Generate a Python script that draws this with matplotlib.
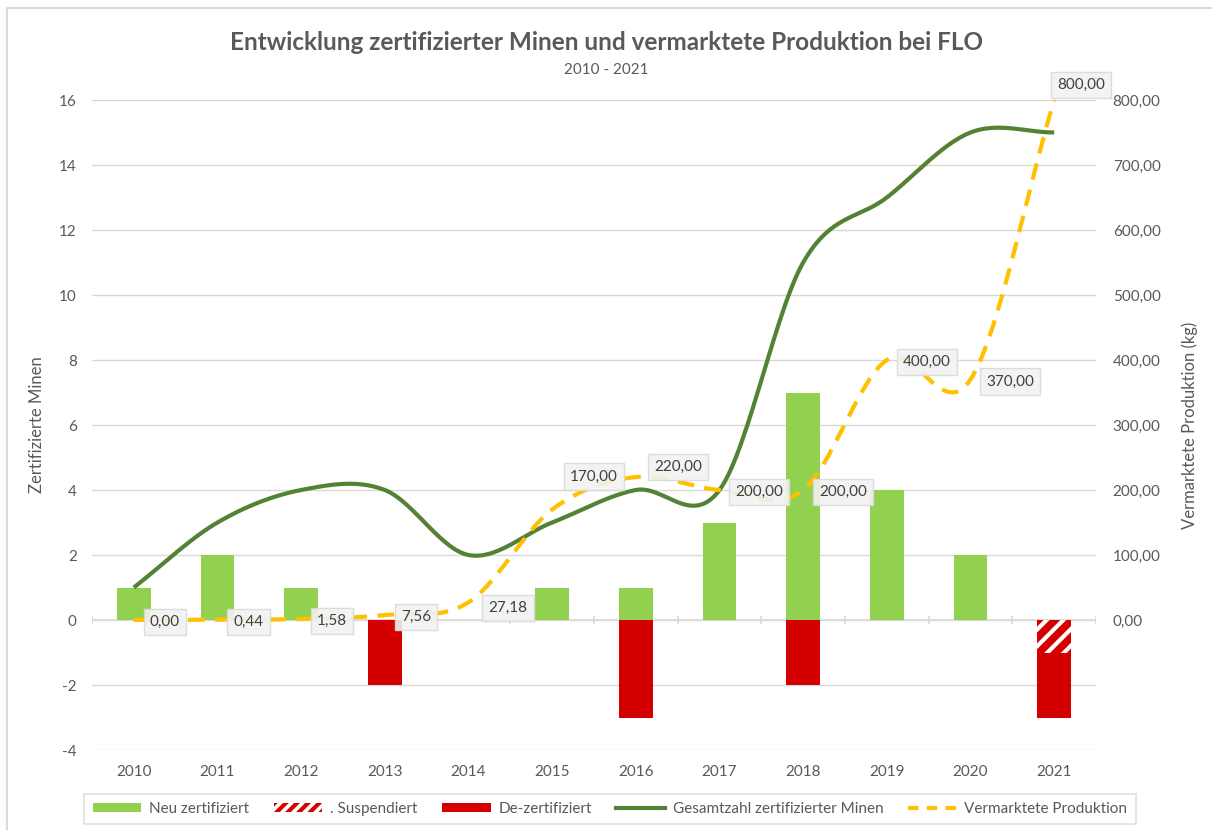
import numpy as np
import matplotlib
matplotlib.use('Agg')
from matplotlib import pyplot as plt
from matplotlib.patches import Patch, Rectangle
from matplotlib.lines import Line2D

plt.rcParams['font.family'] = ['Lato', 'DejaVu Sans']
plt.rcParams['hatch.linewidth'] = 3.0
plt.rcParams['axes.unicode_minus'] = False

years = ['2010', '2011', '2012', '2013', '2014', '2015',
         '2016', '2017', '2018', '2019', '2020', '2021']
neu = [1, 2, 1, 0, 0, 1, 1, 3, 7, 4, 2, 0]
suspendiert = [0, 0, 0, 0, 0, 0, 0, 0, 0, 0, 0, -1]
dezert = [0, 0, 0, -2, 0, 0, -3, 0, -2, 0, 0, -2]
gesamt = [1, 3, 4, 4, 2, 3, 4, 4, 11, 13, 15, 15]
produktion = [0.00, 0.44, 1.58, 7.56, 27.18, 170.00,
              220.00, 200.00, 200.00, 400.00, 370.00, 800.00]

GREEN = '#92d050'
RED = '#d40000'
DKGREEN = '#548235'
YELLOW = '#ffc000'
GRID = '#d9d9d9'
TXT = '#595959'


def smooth(y, n=30):
    # catmull-rom style smoothing like excel's "smoothed line"
    y = np.asarray(y, float)
    x = np.arange(len(y), dtype=float)
    px = np.concatenate([[2 * x[0] - x[1]], x, [2 * x[-1] - x[-2]]])
    py = np.concatenate([[2 * y[0] - y[1]], y, [2 * y[-1] - y[-2]]])
    xs, ys = [], []
    for i in range(1, len(px) - 2):
        t = np.linspace(0, 1, n, endpoint=(i == len(px) - 3))
        for arr, out in ((px, xs), (py, ys)):
            p0, p1, p2, p3 = arr[i - 1], arr[i], arr[i + 1], arr[i + 2]
            out.append(0.5 * ((2 * p1) + (-p0 + p2) * t +
                              (2 * p0 - 5 * p1 + 4 * p2 - p3) * t ** 2 +
                              (-p0 + 3 * p1 - 3 * p2 + p3) * t ** 3))
    return np.concatenate(xs), np.concatenate(ys)


fig = plt.figure(figsize=(12.12, 8.3), dpi=100)
fig.patches.append(Rectangle((7 / 1212, -0.1), 1.2, 1 - 8 / 830 + 0.1,
                             transform=fig.transFigure, fill=False,
                             ec=GRID, lw=1.5))

ax = fig.add_axes([92 / 1212, 1 - 750 / 830, 1004 / 1212, 650 / 830])
ax2 = ax.twinx()

x = np.arange(len(years))
w = 0.4
ax.bar(x, neu, w, color=GREEN, zorder=2)
ax.bar(x, suspendiert, w, color=RED, edgecolor='white', hatch='//',
       linewidth=0, zorder=2)
ax.bar(x, dezert, w, bottom=suspendiert, color=RED, linewidth=0, zorder=2)

sx, sy = smooth(gesamt)
ax.plot(sx, sy, color=DKGREEN, lw=3, zorder=3, solid_capstyle='butt')

px, py = smooth(produktion)
ax2.plot(px, py, color=YELLOW, lw=3, dashes=(4, 2.5), zorder=3)

ax.set_xlim(-0.5, len(years) - 0.5)
ax.set_ylim(-4, 16)
ax.set_yticks(range(-4, 17, 2))
ax2.set_ylim(-200, 800)
ax2.set_yticks(range(0, 801, 100))
ax2.set_yticklabels(['%d,00' % v for v in range(0, 801, 100)])

for a in (ax, ax2):
    for s in a.spines.values():
        s.set_visible(False)
    a.tick_params(length=0, labelsize=11, colors=TXT)
ax.tick_params(axis='y', pad=11)
ax2.tick_params(axis='y', pad=12)
ax.set_xticks(x)
ax.set_xticklabels(years)
ax.tick_params(axis='x', pad=11)
ax.grid(axis='y', color=GRID, lw=1, zorder=0)
ax.set_axisbelow(True)
ax.axhline(0, color=GRID, lw=1.2, zorder=1)
ax.vlines(np.arange(len(years) + 1) - 0.5, -0.12, 0.12, color=GRID, lw=1.2,
          zorder=1)

ax.set_ylabel('Zertifizierte Minen', fontsize=12, color=TXT)
ax.yaxis.set_label_coords(-0.047, 0.5)
ax2.set_ylabel('Vermarktete Produktion (kg)', fontsize=12, color=TXT)
ax2.yaxis.set_label_coords(1.085, 0.5)

# data labels for production (offsets in pixels)
offs = {4: (20, -6), 5: (18, 33), 6: (18, 10), 11: (3, 15)}
for i, v in enumerate(produktion):
    dx, dy = offs.get(i, (16, -2))
    ax2.annotate(('%.2f' % v).replace('.', ','), (i, v),
                 xytext=(dx, dy), textcoords='offset pixels',
                 ha='left', va='center', fontsize=11, color='#404040',
                 zorder=5,
                 bbox=dict(boxstyle='square,pad=0.4', fc='#f2f2f2',
                           ec='#d9d9d9', lw=1, alpha=0.9))

fig.text(0.5, 1 - 42 / 830, 'Entwicklung zertifizierter Minen und vermarktete Produktion bei FLO',
         ha='center', va='center', fontsize=17.5, fontweight='bold', color=TXT)
fig.text(0.5, 1 - 70 / 830, '2010 - 2021', ha='center', va='center',
         fontsize=11, color=TXT)

handles = [Patch(fc=GREEN, lw=0),
           Patch(fc='white', ec=RED, hatch='///', lw=0),
           Patch(fc=RED, lw=0),
           Line2D([], [], color=DKGREEN, lw=3),
           Line2D([], [], color=YELLOW, lw=3, dashes=(2.5, 2))]
labels = ['Neu zertifiziert', '. Suspendiert', 'De-zertifiziert',
          'Gesamtzahl zertifizierter Minen', 'Vermarktete Produktion']
leg = fig.legend(handles, labels, loc='center', ncol=5,
                 bbox_to_anchor=(610 / 1212, 1 - 809 / 830),
                 frameon=True, fancybox=False, fontsize=11,
                 handlelength=3.2, handleheight=0.6, columnspacing=1.6,
                 handletextpad=0.5, borderpad=0.55, labelcolor=TXT)
leg.get_frame().set_edgecolor(GRID)
leg.get_frame().set_linewidth(1.2)

plt.savefig('out.png', dpi=100)
